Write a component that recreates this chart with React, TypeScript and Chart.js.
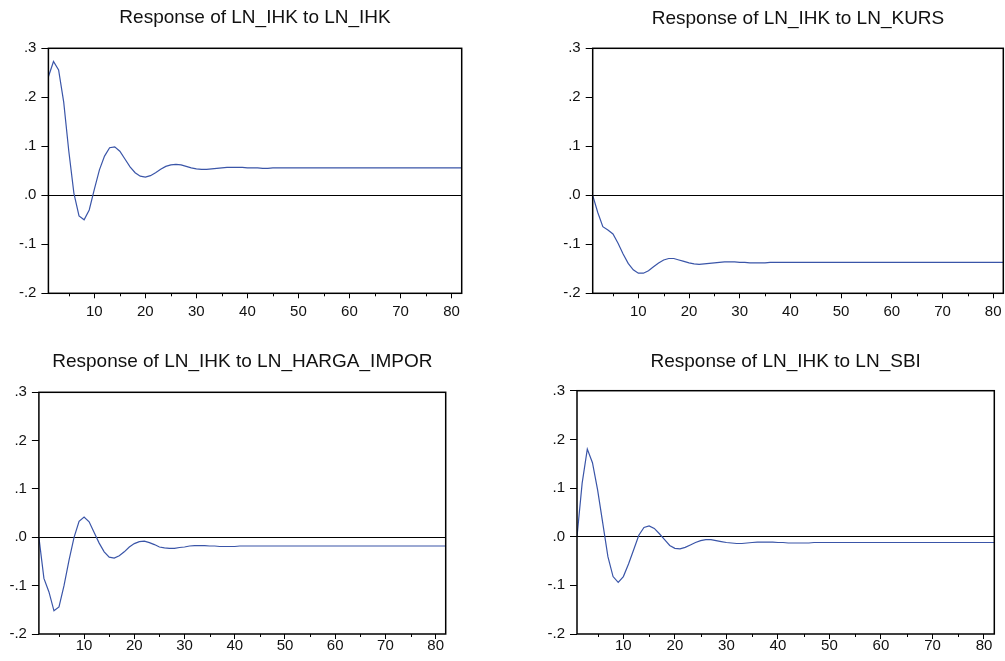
import React, { useEffect, useRef } from 'react';
import { Chart, registerables } from 'chart.js';

Chart.register(...registerables);

// ---------- DATA ----------
const periods: number[] = Array.from({ length: 82 }, (_, i) => i + 1);

const titles: string[] = [
  'Response of LN_IHK to LN_IHK',
  'Response of LN_IHK to LN_KURS',
  'Response of LN_IHK to LN_HARGA_IMPOR',
  'Response of LN_IHK to LN_SBI',
];

const respIhk: number[] = [
  0.242, 0.273, 0.256, 0.190, 0.090, 0.004, -0.042, -0.050, -0.030, 0.012,
  0.052, 0.080, 0.097, 0.099, 0.090, 0.074, 0.058, 0.046, 0.039, 0.037,
  0.040, 0.046, 0.053, 0.059, 0.062, 0.063, 0.062, 0.059, 0.056, 0.054,
  0.053, 0.053, 0.054, 0.055, 0.056, 0.057, 0.057, 0.057, 0.057, 0.056,
  0.056, 0.056, 0.055, 0.055, 0.056, 0.056, 0.056, 0.056, 0.056, 0.056,
  0.056, 0.056, 0.056, 0.056, 0.056, 0.056, 0.056, 0.056, 0.056, 0.056,
  0.056, 0.056, 0.056, 0.056, 0.056, 0.056, 0.056, 0.056, 0.056, 0.056,
  0.056, 0.056, 0.056, 0.056, 0.056, 0.056, 0.056, 0.056, 0.056, 0.056,
  0.056, 0.056,
];

const respKurs: number[] = [
  0.000, -0.035, -0.064, -0.071, -0.079, -0.098, -0.120, -0.139, -0.152, -0.159,
  -0.159, -0.154, -0.146, -0.138, -0.132, -0.129, -0.129, -0.132, -0.135, -0.138,
  -0.140, -0.141, -0.140, -0.139, -0.138, -0.137, -0.136, -0.136, -0.136, -0.137,
  -0.137, -0.138, -0.138, -0.138, -0.138, -0.137, -0.137, -0.137, -0.137, -0.137,
  -0.137, -0.137, -0.137, -0.137, -0.137, -0.137, -0.137, -0.137, -0.137, -0.137,
  -0.137, -0.137, -0.137, -0.137, -0.137, -0.137, -0.137, -0.137, -0.137, -0.137,
  -0.137, -0.137, -0.137, -0.137, -0.137, -0.137, -0.137, -0.137, -0.137, -0.137,
  -0.137, -0.137, -0.137, -0.137, -0.137, -0.137, -0.137, -0.137, -0.137, -0.137,
  -0.137, -0.137,
];

const respHargaImpor: number[] = [
  0.000, -0.085, -0.113, -0.152, -0.144, -0.100, -0.047, 0.000, 0.033, 0.042,
  0.032, 0.010, -0.012, -0.030, -0.041, -0.043, -0.038, -0.030, -0.020, -0.013,
  -0.009, -0.008, -0.011, -0.015, -0.020, -0.022, -0.023, -0.023, -0.021, -0.020,
  -0.018, -0.017, -0.017, -0.017, -0.018, -0.018, -0.019, -0.019, -0.019, -0.019,
  -0.018, -0.018, -0.018, -0.018, -0.018, -0.018, -0.018, -0.018, -0.018, -0.018,
  -0.018, -0.018, -0.018, -0.018, -0.018, -0.018, -0.018, -0.018, -0.018, -0.018,
  -0.018, -0.018, -0.018, -0.018, -0.018, -0.018, -0.018, -0.018, -0.018, -0.018,
  -0.018, -0.018, -0.018, -0.018, -0.018, -0.018, -0.018, -0.018, -0.018, -0.018,
  -0.018, -0.018,
];

const respSbi: number[] = [
  0.000, 0.110, 0.180, 0.152, 0.096, 0.028, -0.041, -0.082, -0.094, -0.082,
  -0.056, -0.027, 0.003, 0.019, 0.022, 0.017, 0.006, -0.006, -0.018, -0.024,
  -0.025, -0.022, -0.017, -0.012, -0.008, -0.006, -0.006, -0.008, -0.010, -0.012,
  -0.013, -0.014, -0.014, -0.013, -0.012, -0.011, -0.011, -0.011, -0.011, -0.012,
  -0.012, -0.013, -0.013, -0.013, -0.013, -0.013, -0.012, -0.012, -0.012, -0.012,
  -0.012, -0.012, -0.012, -0.012, -0.012, -0.012, -0.012, -0.012, -0.012, -0.012,
  -0.012, -0.012, -0.012, -0.012, -0.012, -0.012, -0.012, -0.012, -0.012, -0.012,
  -0.012, -0.012, -0.012, -0.012, -0.012, -0.012, -0.012, -0.012, -0.012, -0.012,
  -0.012, -0.012,
];

const seriesList: number[][] = [respIhk, respKurs, respHargaImpor, respSbi];

const yTickValues: number[] = [-0.2, -0.1, 0, 0.1, 0.2, 0.3];
const yTickLabels: string[] = ['-.2', '-.1', '.0', '.1', '.2', '.3'];
const xTickValues: number[] = [10, 20, 30, 40, 50, 60, 70, 80];
const xMinorTickValues: number[] = [5, 15, 25, 35, 45, 55, 65, 75];

// ---------- LAYOUT ----------
type Panel = {
  left: number; top: number; w: number; h: number;
  cl: number; cr: number; ct: number; cb: number; titleY: number; xPad: number;
};

const panels: Panel[] = [
  { left: 0, top: 0, w: 500, h: 330, cl: 48.4, cr: 461.7, ct: 48.3, cb: 293.3, titleY: 18, xPad: 5 },
  { left: 500, top: 0, w: 505, h: 330, cl: 92.7, cr: 503.3, ct: 48.3, cb: 293.3, titleY: 19, xPad: 5 },
  { left: 0, top: 335, w: 500, h: 326, cl: 38.9, cr: 445.7, ct: 57.3, cb: 299, titleY: 26.5, xPad: -2 },
  { left: 500, top: 335, w: 505, h: 326, cl: 77, cr: 494.3, ct: 55.7, cb: 299, titleY: 26.5, xPad: -2 },
];

const FONT_FAMILY = '"Liberation Sans", Arial, Helvetica, sans-serif';
const TITLE_SIZE = 19;

const boxPlugin = {
  id: 'eviewsBox',
  afterDraw(chart: any) {
    const { ctx, chartArea } = chart;
    const xs = chart.scales.x;
    ctx.save();
    // minor x ticks
    ctx.strokeStyle = '#000';
    ctx.lineWidth = 1;
    xMinorTickValues.forEach((v) => {
      const px = Math.round(xs.getPixelForValue(v)) + 0.5;
      ctx.beginPath();
      ctx.moveTo(px, chartArea.bottom);
      ctx.lineTo(px, chartArea.bottom + 3);
      ctx.stroke();
    });
    // frame
    ctx.strokeStyle = '#000';
    ctx.lineWidth = 1.5;
    ctx.strokeRect(chartArea.left, chartArea.top, chartArea.right - chartArea.left, chartArea.bottom - chartArea.top);
    ctx.restore();
  },
};

function PanelChart({ idx }: { idx: number }) {
  const ref = useRef<HTMLCanvasElement | null>(null);
  const p = panels[idx];
  useEffect(() => {
    if (!ref.current) return;
    const values = seriesList[idx];
    const titleTop = p.titleY - (TITLE_SIZE * 1.2) / 2;
    const titleBottom = p.ct - titleTop - TITLE_SIZE * 1.2;
    const tickFont = { family: FONT_FAMILY, size: 15 };
    const chart = new Chart(ref.current, {
      type: 'line',
      data: {
        datasets: [
          {
            data: periods.map((x, i) => ({ x, y: values[i] })),
            borderColor: '#3a55a8',
            borderWidth: 1.2,
            pointRadius: 0,
            tension: 0,
            fill: false,
          },
        ],
      },
      options: {
        animation: false,
        responsive: false,
        devicePixelRatio: 1,
        layout: { padding: { left: 0, right: p.w - p.cr, top: 0, bottom: 0 } },
        plugins: {
          legend: { display: false },
          tooltip: { enabled: false },
          title: {
            display: true,
            text: titles[idx],
            fullSize: false,
            color: '#111',
            font: { family: FONT_FAMILY, size: TITLE_SIZE, weight: 'normal' },
            padding: { top: titleTop, bottom: titleBottom },
          },
        },
        scales: {
          x: {
            type: 'linear',
            min: 1,
            max: 82,
            afterBuildTicks: (s: any) => {
              s.ticks = xTickValues.map((v) => ({ value: v }));
            },
            afterFit: (s: any) => {
              s.height = p.h - p.cb;
              s.paddingLeft = 0;
              s.paddingRight = 0;
            },
            grid: { drawOnChartArea: false, tickColor: '#000', tickLength: 5, tickWidth: 1 },
            border: { display: false },
            ticks: {
              font: tickFont,
              color: '#111',
              padding: p.xPad,
              maxRotation: 0,
              autoSkip: false,
              callback: (v: any) => String(v),
            },
          },
          y: {
            type: 'linear',
            min: -0.2,
            max: 0.3,
            afterBuildTicks: (s: any) => {
              s.ticks = yTickValues.map((v) => ({ value: v }));
            },
            afterFit: (s: any) => {
              s.width = p.cl;
              s.paddingTop = 0;
              s.paddingBottom = 0;
            },
            grid: {
              color: (c: any) => (c.tick && c.tick.value === 0 ? '#000' : 'rgba(0,0,0,0)'),
              tickColor: '#000',
              tickLength: 7,
              lineWidth: 1,
            },
            border: { display: false },
            ticks: {
              font: tickFont,
              color: '#111',
              padding: 5,
              autoSkip: false,
              callback: (v: any) => {
                const k = yTickValues.indexOf(v);
                return k >= 0 ? yTickLabels[k] : '';
              },
            },
          },
        },
      },
      plugins: [boxPlugin],
    } as any);
    return () => chart.destroy();
  }, [idx]);
  return (
    <canvas
      ref={ref}
      width={p.w}
      height={p.h}
      style={{ position: 'absolute', left: p.left, top: p.top, width: p.w, height: p.h }}
    />
  );
}

export default function App() {
  return (
    <div style={{ position: 'absolute', left: 0, top: 0, width: 1005, height: 661, background: '#fff' }}>
      {panels.map((_, i) => (
        <PanelChart key={i} idx={i} />
      ))}
    </div>
  );
}
